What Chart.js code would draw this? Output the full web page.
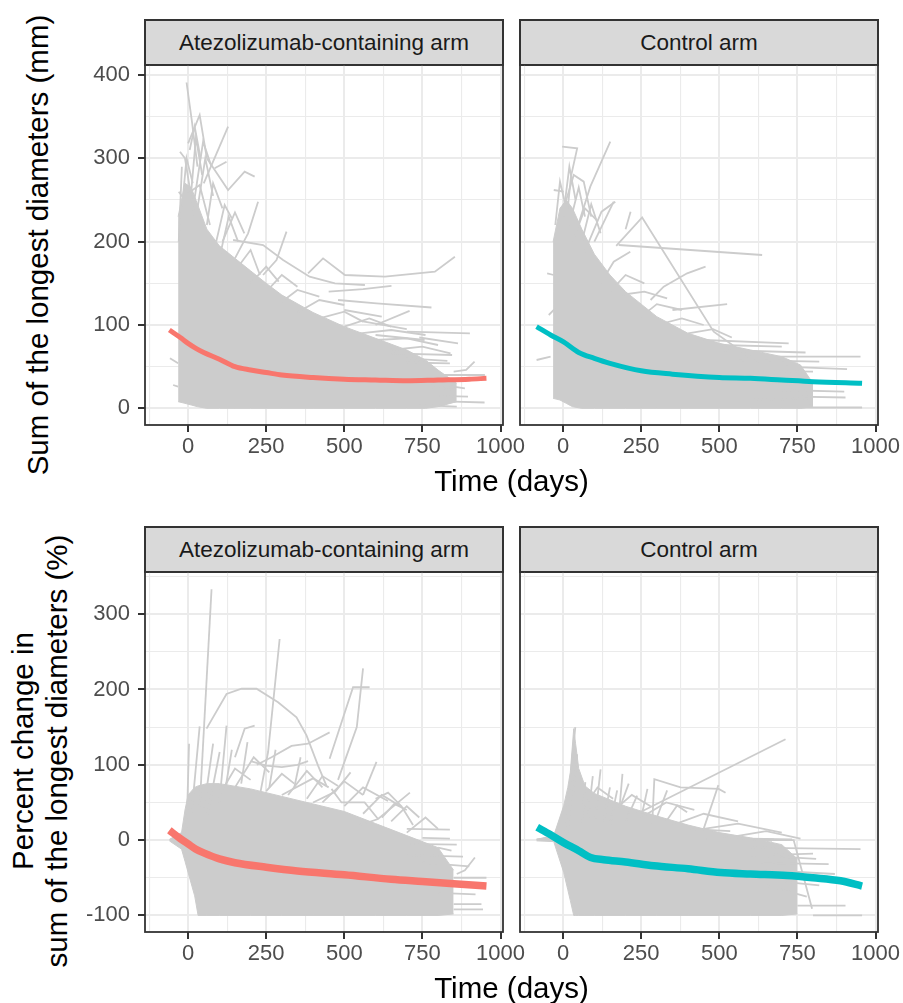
<!DOCTYPE html>
<html>
<head>
<meta charset="utf-8">
<title>Sum of the longest diameters over time</title>
<script src="https://cdn.jsdelivr.net/npm/chart.js@4.4.1/dist/chart.umd.min.js"></script>
<style>
  html, body { margin: 0; padding: 0; background: #fff; }
  body { width: 903px; height: 1003px; position: relative; overflow: hidden; font-family: "Liberation Sans", Arial, sans-serif; }
  canvas { position: absolute; }
  .strip { position: absolute; box-sizing: border-box; width: 360px; height: 47px; background: #d9d9d9; border: 2px solid #333; color: #1a1a1a; font-size: 22.5px; display: flex; align-items: center; justify-content: center; white-space: nowrap; }
  .xtitle { position: absolute; left: 145px; width: 733px; text-align: center; font-size: 29.5px; line-height: 34px; color: #000; }
  .ytitle { position: absolute; width: 600px; text-align: center; font-size: 29.5px; line-height: 34px; color: #000; transform: rotate(-90deg); white-space: nowrap; }
</style>
</head>
<body>
<div class="strip" style="left:144px;top:19px">Atezolizumab-containing arm</div>
<div class="strip" style="left:519px;top:19px">Control arm</div>
<div class="strip" style="left:144px;top:526px">Atezolizumab-containing arm</div>
<div class="strip" style="left:519px;top:526px">Control arm</div>

<canvas id="sldAtezo" width="450" height="420" style="left:83px;top:50px"></canvas>
<canvas id="sldControl" width="388" height="420" style="left:515px;top:50px"></canvas>
<canvas id="pctAtezo" width="450" height="420" style="left:83px;top:557px"></canvas>
<canvas id="pctControl" width="388" height="420" style="left:515px;top:557px"></canvas>

<div class="xtitle" style="top:464px">Time (days)</div>
<div class="xtitle" style="top:971px">Time (days)</div>
<div class="ytitle" style="left:-262px;top:228px;height:34px">Sum of the longest diameters (mm)</div>
<div class="ytitle" style="left:-260px;top:717px;height:68px">Percent change in<br>sum of the longest diameters (%)</div>

<script>
// ticks
const dayTicks = [-125, 0, 125, 250, 375, 500, 625, 750, 875, 1000];
const dayLabels = [0, 250, 500, 750, 1000];
const sldTicks = [0, 50, 100, 150, 200, 250, 300, 350, 400];
const sldLabels = [0, 100, 200, 300, 400];
const pctTicks = [-100, -50, 0, 50, 100, 150, 200, 250, 300, 350];
const pctLabels = [-100, 0, 100, 200, 300];

// smooth trend per arm
const atezoSldTrendX = [-60, -25, 0, 25, 50, 100, 150, 200, 250, 300, 400, 500, 600, 700, 800, 900, 955];
const atezoSldTrendY = [94, 85, 78, 72, 67, 59, 50, 46, 43, 40, 37, 35, 34, 33, 34, 35, 36];
const controlSldTrendX = [-85, -40, 0, 50, 100, 150, 250, 350, 500, 600, 700, 800, 957];
const controlSldTrendY = [98, 88, 80, 67, 60, 54, 45, 41, 37, 36, 34, 32, 30];
const atezoPctTrendX = [-60, -25, 0, 25, 50, 100, 150, 250, 350, 500, 650, 750, 850, 955];
const atezoPctTrendY = [13, 2, -5, -12, -17, -25, -30, -36, -41, -46, -52, -55, -58, -61];
const controlPctTrendX = [-83, -40, 0, 50, 88, 130, 200, 290, 400, 504, 600, 717, 800, 888, 957];
const controlPctTrendY = [17, 7, -3, -14, -23, -26, -29, -34, -38, -43, -45, -47, -50, -54, -61];

// dense core of individual patient lines (upper / lower edge)
const atezoSldBandX = [-32, -10, 10, 30, 60, 100, 150, 200, 250, 300, 400, 500, 600, 700, 760, 800, 860];
const atezoSldBandHigh = [230, 270, 265, 245, 215, 195, 180, 165, 150, 136, 115, 98, 84, 70, 58, 46, 30];
const atezoSldBandLow = [8, 6, 4, 2, 0, 0, 0, 0, 0, 0, 0, 0, 0, 0, 0, 2, 8];
const controlSldBandX = [-32, -10, 10, 30, 60, 100, 150, 200, 250, 300, 400, 500, 600, 700, 760, 800];
const controlSldBandHigh = [200, 240, 250, 240, 215, 185, 160, 140, 125, 110, 90, 78, 70, 62, 52, 30];
const controlSldBandLow = [12, 10, 6, 2, 0, 0, 0, 0, 0, 0, 0, 0, 0, 0, 0, 2];
const atezoPctBandX = [-60, -21, -10, 0, 21, 32, 60, 100, 200, 300, 400, 500, 600, 700, 800, 850];
const atezoPctBandHigh = [1, 10, 40, 60, 70, 72, 75, 75, 68, 58, 48, 38, 22, 6, -10, -40];
const atezoPctBandLow = [-1, -12, -28, -43, -74, -100, -100, -100, -100, -100, -100, -100, -100, -100, -100, -98];
const controlPctBandX = [-85, -30, 2, 15, 23, 34, 40, 50, 70, 100, 200, 300, 400, 500, 600, 700, 750];
const controlPctBandHigh = [1, 6, 46, 70, 90, 148, 128, 95, 72, 62, 45, 32, 20, 10, 3, -6, -25];
const controlPctBandLow = [-1, -2, -43, -66, -80, -100, -100, -100, -100, -100, -100, -100, -100, -100, -100, -100, -98];

// individual trajectories standing out of the core [day, value]
const atezoSldPaths = [
  [[-5, 391], [12, 345], [30, 290]],
  [[0, 318], [37, 352], [60, 300]],
  [[50, 270], [128, 338]],
  [[60, 300], [128, 262], [181, 284], [213, 278]],
  [[150, 180], [192, 210], [224, 248]],
  [[240, 160], [283, 178], [315, 212]],
  [[144, 202], [240, 196], [304, 178], [389, 158], [470, 150], [566, 148]],
  [[384, 162], [432, 180], [502, 160], [630, 158], [790, 164], [854, 182]],
  [[450, 140], [560, 143], [651, 147]],
  [[480, 130], [603, 126], [779, 121]],
  [[600, 100], [709, 117]],
  [[700, 92], [902, 90]],
  [[740, 85], [864, 78]],
  [[850, 44], [890, 46], [917, 56]],
  [[850, 8], [949, 7]],
  [[800, 15], [896, 14]],
  [[780, 25], [852, 22]],
  [[700, 60], [830, 57]],
  [[760, 40], [950, 40]],
  [[760, 34], [930, 36]],
  [[650, 66], [845, 64]],
  [[700, 55], [838, 54]],
  [[600, 88], [757, 82]],
  [[550, 105], [700, 95]],
  [[500, 118], [620, 110]],
  [[780, 30], [886, 24]],
  [[740, 4], [860, 2]],
  [[-58, 60], [-32, 54]],
  [[-48, 28], [-32, 26]],
  [[-26, 308], [-10, 300], [20, 230]],
  [[-30, 260], [10, 240]],
  [[-16, 254], [37, 268], [70, 220]],
  [[5, 310], [21, 338], [40, 300]],
  [[85, 288], [123, 296]],
  [[20, 250], [48, 320], [75, 290]],
  [[-20, 240], [-5, 300], [15, 270]],
  [[10, 260], [25, 325], [45, 280]],
  [[30, 240], [55, 300], [80, 255]],
  [[-30, 200], [-20, 290]],
  [[60, 220], [80, 270], [110, 240]],
  [[110, 200], [150, 235], [180, 210]],
  [[90, 200], [117, 244], [140, 228]],
  [[100, 180], [130, 230], [160, 200]],
  [[160, 170], [200, 190], [230, 160]],
  [[200, 150], [250, 170], [290, 152]],
  [[250, 140], [300, 160], [350, 146]],
  [[300, 128], [350, 142], [420, 134]],
  [[350, 115], [420, 130], [500, 124]],
  [[420, 108], [500, 116], [560, 104]],
  [[500, 98], [580, 108], [650, 98]],
  [[550, 90], [650, 94], [760, 88]],
  [[600, 82], [700, 84], [800, 76]],
  [[650, 70], [750, 74], [840, 66]]
];
const controlSldPaths = [
  [[-3, 314], [45, 312], [25, 278], [15, 240]],
  [[40, 210], [87, 266], [151, 320]],
  [[170, 195], [253, 229], [482, 92], [640, 50], [797, 4]],
  [[178, 196], [637, 184]],
  [[280, 130], [322, 146], [397, 162], [456, 170]],
  [[350, 118], [525, 125]],
  [[100, 200], [162, 248]],
  [[200, 215], [216, 236]],
  [[450, 82], [722, 78]],
  [[500, 70], [776, 67]],
  [[600, 62], [952, 62]],
  [[700, 50], [909, 47]],
  [[750, 14], [904, 13]],
  [[750, 1], [957, 1]],
  [[600, 10], [800, 12]],
  [[500, 76], [700, 74]],
  [[550, 58], [820, 56]],
  [[600, 45], [800, 44]],
  [[650, 30], [850, 32]],
  [[700, 22], [900, 20]],
  [[-30, 262], [2, 260]],
  [[-51, 162], [-30, 160]],
  [[-85, 58], [-40, 62]],
  [[-46, 112], [-25, 120]],
  [[-25, 220], [-10, 272], [10, 240]],
  [[0, 230], [20, 290], [40, 250]],
  [[20, 220], [50, 265], [70, 230]],
  [[60, 200], [90, 245], [120, 210]],
  [[10, 250], [34, 280], [66, 272], [90, 230]],
  [[30, 200], [70, 240], [110, 225]],
  [[60, 180], [123, 236], [167, 248]],
  [[120, 150], [162, 176], [215, 188]],
  [[150, 140], [200, 160], [260, 150]],
  [[183, 136], [260, 140], [333, 132]],
  [[250, 110], [300, 125], [380, 118]],
  [[300, 100], [380, 108], [450, 100]],
  [[400, 90], [480, 95], [540, 85]]
];
const atezoPctPaths = [
  [[37, 44], [75, 333]],
  [[59, 148], [123, 194], [171, 201], [219, 201], [288, 183], [347, 163], [379, 139], [416, 99], [443, 72]],
  [[230, 60], [256, 117], [293, 267]],
  [[453, 108], [528, 203], [581, 203]],
  [[480, 80], [540, 150], [560, 228]],
  [[220, 100], [267, 110], [331, 125], [384, 128], [453, 143]],
  [[200, 105], [250, 99], [300, 97], [350, 100], [384, 105]],
  [[150, 110], [181, 148], [213, 152]],
  [[459, 68], [491, 50], [565, 50], [608, 28]],
  [[550, 20], [608, 28], [710, 63]],
  [[560, 60], [603, 104]],
  [[600, 55], [640, 63], [683, 45], [720, 20]],
  [[700, 15], [838, 14]],
  [[750, 3], [838, 2]],
  [[800, -10], [843, -14]],
  [[700, -20], [880, -22]],
  [[750, -30], [900, -35]],
  [[700, -5], [860, -6]],
  [[780, -60], [930, -62]],
  [[800, -70], [920, -72]],
  [[860, -45], [886, -40], [918, -23]],
  [[850, -50], [955, -50]],
  [[850, -85], [939, -85]],
  [[850, -92], [944, -92]],
  [[-5, 10], [3, 128]],
  [[10, 30], [37, 151]],
  [[50, 40], [80, 128]],
  [[60, 30], [101, 117]],
  [[100, 50], [123, 152]],
  [[120, 70], [140, 120]],
  [[170, 75], [190, 130]],
  [[260, 70], [280, 120]],
  [[340, 70], [360, 110]],
  [[100, 60], [150, 95], [200, 80]],
  [[150, 70], [210, 110], [260, 90]],
  [[250, 65], [300, 88], [340, 75]],
  [[320, 60], [380, 92], [430, 70]],
  [[380, 55], [430, 85], [480, 72]],
  [[430, 50], [500, 78], [560, 60]],
  [[500, 45], [560, 70], [640, 52]],
  [[560, 35], [620, 60], [680, 45]],
  [[650, 25], [700, 45], [740, 30]],
  [[700, 10], [760, 30], [800, 15]],
  [[300, 60], [400, 82], [450, 70]],
  [[400, 50], [470, 64], [520, 90]],
  [[620, 30], [660, 48], [700, 40]]
];
const controlPctPaths = [
  [[5, 0], [39, 150]],
  [[20, 10], [45, 114]],
  [[237, 35], [712, 134]],
  [[285, 20], [292, 81], [376, 70], [498, 68], [520, 63]],
  [[450, 15], [497, 73]],
  [[600, -10], [952, -12]],
  [[800, -100], [957, -100]],
  [[750, -87], [904, -87]],
  [[600, 2], [733, 1]],
  [[650, 0], [738, 0], [797, -91]],
  [[600, -30], [850, -32]],
  [[650, -40], [870, -45]],
  [[700, -55], [820, -60]],
  [[650, -20], [800, -18]],
  [[-85, 1], [-40, 3]],
  [[100, 20], [120, 94]],
  [[60, 20], [71, 77]],
  [[150, 20], [173, 66]],
  [[170, 30], [210, 75]],
  [[200, 25], [237, 59]],
  [[300, 30], [333, 66]],
  [[330, 25], [365, 46], [397, 37]],
  [[400, 15], [535, 12]],
  [[500, 5], [669, -1]],
  [[80, 30], [95, 85]],
  [[130, 25], [150, 70]],
  [[250, 30], [270, 68]],
  [[180, 40], [190, 88]],
  [[60, 40], [110, 70], [160, 55]],
  [[150, 35], [220, 60], [280, 45]],
  [[250, 30], [330, 50], [420, 40]],
  [[350, 20], [450, 35], [560, 25]],
  [[450, 15], [560, 22], [700, 10]],
  [[550, 5], [650, 12], [760, 2]],
  [[460, 1], [675, 1]],
  [[600, -20], [810, -25]],
  [[650, -60], [780, -75]]
];

const GREY = '#cccccc';
const tickFont = { family: '"Liberation Sans", Arial, sans-serif', size: 22, lineHeight: 1 };

const toPts = (xs, ys) => xs.map((x, i) => ({ x: x, y: ys[i] }));

const panelBorder = {
  id: 'panelBorder',
  afterDatasetsDraw(chart) {
    const { ctx, chartArea: a } = chart;
    ctx.save();
    ctx.strokeStyle = '#333333';
    ctx.lineWidth = 1.8;
    ctx.strokeRect(a.left, a.top, a.right - a.left, a.bottom - a.top);
    ctx.restore();
  }
};

function axis(min, max, ticks, labels, showLabels, isX) {
  const major = c => c.tick && labels.includes(c.tick.value);
  return {
    type: 'linear',
    min: min,
    max: max,
    afterBuildTicks: s => { s.ticks = ticks.map(v => ({ value: v })); },
    afterFit: s => {
      if (isX) { s.height = 45; s.paddingLeft = 0; s.paddingRight = 0; }
      else { s.width = showLabels ? 62 : 0; s.paddingTop = 0; s.paddingBottom = 0; }
    },
    ticks: {
      display: showLabels,
      autoSkip: false,
      maxRotation: 0,
      minRotation: 0,
      color: '#4d4d4d',
      font: tickFont,
      padding: isX ? 4 : 8,
      callback: v => labels.includes(v) ? String(v) : ''
    },
    grid: {
      color: '#ebebeb',
      lineWidth: c => major(c) ? 2 : 1.1,
      drawTicks: showLabels,
      tickLength: 7,
      tickWidth: 2,
      tickColor: c => major(c) ? '#333333' : 'rgba(0,0,0,0)'
    },
    border: { display: false }
  };
}

function drawPanel(id, p) {
  const datasets = [];
  datasets.push({
    data: toPts(p.trendX, p.trendY), borderColor: p.color, borderWidth: p.width,
    borderCapStyle: 'butt', cubicInterpolationMode: 'monotone', order: 0
  });
  p.paths.forEach(path => {
    datasets.push({ data: path.map(pt => ({ x: pt[0], y: pt[1] })), borderColor: GREY, borderWidth: 1.8, order: 1 });
  });
  datasets.push({ data: toPts(p.bandX, p.bandLow), borderColor: GREY, borderWidth: 1, order: 2 });
  datasets.push({ data: toPts(p.bandX, p.bandHigh), borderColor: GREY, borderWidth: 1, backgroundColor: GREY, fill: '-1', order: 2 });

  new Chart(document.getElementById(id), {
    type: 'line',
    data: { datasets: datasets },
    options: {
      responsive: false,
      animation: false,
      events: [],
      layout: { padding: p.left ? { left: 0, top: 15, right: 30, bottom: 0 } : { left: 5, top: 15, right: 25, bottom: 0 } },
      elements: { point: { radius: 0 }, line: { tension: 0, fill: false } },
      plugins: { legend: { display: false }, tooltip: { enabled: false } },
      scales: {
        x: axis(-138, 1008, dayTicks, dayLabels, true, true),
        y: axis(p.yMin, p.yMax, p.yTicks, p.yLabels, p.left, false)
      }
    },
    plugins: [panelBorder]
  });
}

drawPanel('sldAtezo', {
  left: true, yMin: -20, yMax: 412, yTicks: sldTicks, yLabels: sldLabels,
  trendX: atezoSldTrendX, trendY: atezoSldTrendY, color: '#f8766d', width: 5,
  bandX: atezoSldBandX, bandHigh: atezoSldBandHigh, bandLow: atezoSldBandLow, paths: atezoSldPaths
});
drawPanel('sldControl', {
  left: false, yMin: -20, yMax: 412, yTicks: sldTicks, yLabels: sldLabels,
  trendX: controlSldTrendX, trendY: controlSldTrendY, color: '#00bfc4', width: 5,
  bandX: controlSldBandX, bandHigh: controlSldBandHigh, bandLow: controlSldBandLow, paths: controlSldPaths
});
drawPanel('pctAtezo', {
  left: true, yMin: -122, yMax: 356, yTicks: pctTicks, yLabels: pctLabels,
  trendX: atezoPctTrendX, trendY: atezoPctTrendY, color: '#f8766d', width: 7.5,
  bandX: atezoPctBandX, bandHigh: atezoPctBandHigh, bandLow: atezoPctBandLow, paths: atezoPctPaths
});
drawPanel('pctControl', {
  left: false, yMin: -122, yMax: 356, yTicks: pctTicks, yLabels: pctLabels,
  trendX: controlPctTrendX, trendY: controlPctTrendY, color: '#00bfc4', width: 7.5,
  bandX: controlPctBandX, bandHigh: controlPctBandHigh, bandLow: controlPctBandLow, paths: controlPctPaths
});
</script>
</body>
</html>
